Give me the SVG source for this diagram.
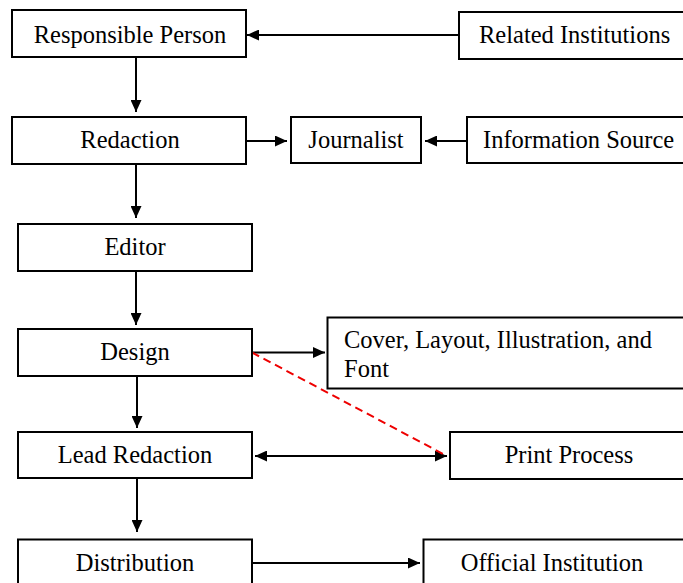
<svg xmlns="http://www.w3.org/2000/svg" width="683" height="583" viewBox="0 0 683 583">
<defs>
<marker id="ah" markerWidth="13" markerHeight="11" refX="12" refY="5.5" orient="auto" markerUnits="userSpaceOnUse">
<path d="M0,0 L12,5.5 L0,11 Z" fill="#000"/>
</marker>
<marker id="ahs" markerWidth="13" markerHeight="11" refX="0" refY="5.5" orient="auto" markerUnits="userSpaceOnUse">
<path d="M12,0 L0,5.5 L12,11 Z" fill="#000"/>
</marker>
</defs>
<style>
rect{fill:#fff;stroke:#000;stroke-width:2}
text{font-family:"Liberation Serif","Times New Roman",serif;font-size:24.5px;fill:#000}
.c{text-anchor:middle}
.e{fill:none;stroke:#000;stroke-width:2}
.red{fill:none;stroke:#e00;stroke-width:2;stroke-dasharray:8,5}
</style>
<rect x="0" y="0" width="683" height="583" style="fill:#fff;stroke:none"/>
<g id="edges">
<line class="e" x1="459" y1="35" x2="247" y2="35" marker-end="url(#ah)"/>
<line class="e" x1="136" y1="57" x2="136" y2="112" marker-end="url(#ah)"/>
<line class="e" x1="246" y1="141" x2="287" y2="141" marker-end="url(#ah)"/>
<line class="e" x1="467" y1="141" x2="425" y2="141" marker-end="url(#ah)"/>
<line class="e" x1="136" y1="164" x2="136" y2="218" marker-end="url(#ah)"/>
<line class="e" x1="136" y1="271" x2="136" y2="325" marker-end="url(#ah)"/>
<line class="e" x1="252" y1="352.5" x2="325" y2="352.5" marker-end="url(#ah)"/>
<line class="e" x1="137" y1="376" x2="137" y2="428" marker-end="url(#ah)"/>
<line class="e" x1="255" y1="456" x2="447" y2="456" marker-start="url(#ahs)" marker-end="url(#ah)"/>
<line class="e" x1="137" y1="478" x2="137" y2="532" marker-end="url(#ah)"/>
<line class="e" x1="252" y1="563" x2="420" y2="563" marker-end="url(#ah)"/>
<line class="red" x1="252" y1="352.5" x2="445" y2="455"/>
</g>
<g id="responsible-person"><rect x="12" y="10" width="234" height="47"/><text class="c" x="130" y="43">Responsible Person</text></g>
<g id="related-institutions"><rect x="459" y="12" width="240" height="47"/><text x="479" y="43">Related Institutions</text></g>
<g id="redaction"><rect x="12" y="117" width="234" height="47"/><text class="c" x="130" y="148">Redaction</text></g>
<g id="journalist"><rect x="291" y="117" width="130" height="46"/><text class="c" x="356" y="148">Journalist</text></g>
<g id="information-source"><rect x="467" y="117" width="230" height="46"/><text x="483" y="148">Information Source</text></g>
<g id="editor"><rect x="18" y="224" width="234" height="47"/><text class="c" x="135" y="255">Editor</text></g>
<g id="design"><rect x="18" y="329" width="234" height="47"/><text class="c" x="135" y="360">Design</text></g>
<g id="cover"><rect x="327.5" y="317.5" width="370" height="71"/><text x="344" y="348">Cover, Layout, Illustration, and</text><text x="344" y="377">Font</text></g>
<g id="lead-redaction"><rect x="18" y="432" width="234" height="46"/><text class="c" x="135" y="463">Lead Redaction</text></g>
<g id="print-process"><rect x="450" y="432" width="250" height="47"/><text class="c" x="569" y="463">Print Process</text></g>
<g id="distribution"><rect x="18" y="539.5" width="234" height="60"/><text class="c" x="135" y="571">Distribution</text></g>
<g id="official-institution"><rect x="423.5" y="539.5" width="280" height="60"/><text class="c" x="552" y="571">Official Institution</text></g>
</svg>
